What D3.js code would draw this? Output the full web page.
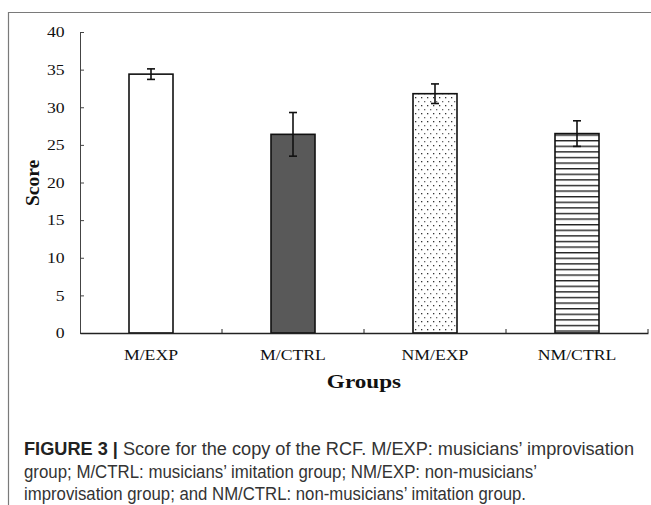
<!DOCTYPE html>
<html>
<head>
<meta charset="utf-8">
<script src="https://cdn.jsdelivr.net/npm/d3@7"></script>
<style>
  body { margin: 0; background: #fff; }
  svg { display: block; }
</style>
</head>
<body>
<script>
"use strict";
// chart values
const groups = ["M/EXP", "M/CTRL", "NM/EXP", "NM/CTRL"];
const means = [34.4, 26.4, 31.8, 26.5];
const errors = [0.7, 2.9, 1.3, 1.7];
const yTicks = [0, 5, 10, 15, 20, 25, 30, 35, 40];
const fills = ["#ffffff", "#595959", "url(#dots)", "url(#hlines)"];
const captionLines = [
    ["FIGURE 3 | ", "Score for the copy of the RCF. M/EXP: musicians\u2019 improvisation"],
    ["", "group; M/CTRL: musicians\u2019 imitation group; NM/EXP: non-musicians\u2019"],
    ["", "improvisation group; and NM/CTRL: non-musicians\u2019 imitation group."]
];

const size = { width: 651, height: 505 };
const serif = "'Liberation Serif', 'Times New Roman', serif";
const stretch = 1.18; // the original figure is a little wider than tall

const svg = d3.select("body").append("svg")
    .attr("width", size.width)
    .attr("height", size.height);

const defs = svg.append("defs");
const dots = defs.append("pattern")
    .attr("id", "dots")
    .attr("patternUnits", "userSpaceOnUse")
    .attr("width", 6).attr("height", 8);
dots.append("rect").attr("width", 6).attr("height", 8).attr("fill", "#fff");
dots.append("rect").attr("x", 1).attr("y", 1).attr("width", 1.3).attr("height", 1.3).attr("fill", "#333");
dots.append("rect").attr("x", 4).attr("y", 5).attr("width", 1.3).attr("height", 1.3).attr("fill", "#666");

const hl = defs.append("pattern")
    .attr("id", "hlines")
    .attr("patternUnits", "userSpaceOnUse")
    .attr("width", 10).attr("height", 5.6);
hl.append("rect").attr("width", 10).attr("height", 5.6).attr("fill", "#fff");
hl.append("rect").attr("y", 0).attr("width", 10).attr("height", 1.4).attr("fill", "#222");

// frame of the figure panel
svg.append("path")
    .attr("d", "M8.5,505 V12.5 H651")
    .attr("fill", "none")
    .attr("stroke", "#7a7a7a")
    .attr("stroke-width", 1.2);

const x = d3.scaleBand().domain(groups).range([80, 648]).padding(0);
const y = d3.scaleLinear().domain([0, 40]).range([333, 32]);
const barW = 44;

// y axis
const yAxis = svg.append("g")
    .attr("transform", "translate(80,0)")
    .call(d3.axisLeft(y).tickValues(yTicks).tickSizeInner(-4).tickSizeOuter(0).tickPadding(13));
yAxis.select(".domain").attr("stroke", "#444").attr("stroke-width", 1);
yAxis.selectAll(".tick line").attr("stroke", "#444");
yAxis.selectAll("text")
    .attr("transform", "scale(" + stretch + ",1)")
    .attr("font-family", serif)
    .attr("font-size", 15)
    .attr("fill", "#111");

// bars
svg.selectAll(".bar")
    .data(groups)
    .enter()
    .append("rect")
        .attr("class", "bar")
        .attr("x", d => x(d) + (x.bandwidth() - barW) / 2)
        .attr("width", barW)
        .attr("y", (d, i) => y(means[i]))
        .attr("height", (d, i) => y(0) - y(means[i]))
        .attr("fill", (d, i) => fills[i])
        .attr("stroke", "#111")
        .attr("stroke-width", 1.6);

// error bars
const eb = svg.selectAll(".err")
    .data(groups)
    .enter()
    .append("g")
        .attr("class", "err")
        .attr("stroke", "#111")
        .attr("stroke-width", 1.6);
const cx = d => x(d) + x.bandwidth() / 2;
eb.append("line")
    .attr("x1", cx).attr("x2", cx)
    .attr("y1", (d, i) => y(means[i] + errors[i]))
    .attr("y2", (d, i) => y(means[i] - errors[i]));
eb.append("line")
    .attr("x1", d => cx(d) - 4).attr("x2", d => cx(d) + 4)
    .attr("y1", (d, i) => y(means[i] + errors[i]))
    .attr("y2", (d, i) => y(means[i] + errors[i]));
eb.append("line")
    .attr("x1", d => cx(d) - 4).attr("x2", d => cx(d) + 4)
    .attr("y1", (d, i) => y(means[i] - errors[i]))
    .attr("y2", (d, i) => y(means[i] - errors[i]));

// x axis
const xAxis = svg.append("g")
    .attr("transform", "translate(0," + y(0) + ")")
    .call(d3.axisBottom(x).tickSize(0).tickPadding(16));
xAxis.select(".domain").attr("stroke", "#222").attr("stroke-width", 1.3);
xAxis.selectAll("text")
    .attr("transform", "scale(" + stretch + ",1)")
    .attr("font-family", serif)
    .attr("font-size", 15)
    .attr("fill", "#111");
const bounds = groups.map(g => x(g) + x.bandwidth());
xAxis.selectAll(".sep")
    .data(bounds)
    .enter()
    .append("line")
        .attr("x1", d => d).attr("x2", d => d)
        .attr("y1", 0).attr("y2", -4)
        .attr("stroke", "#222");

// axis titles
svg.append("text")
    .attr("transform", "translate(39,183) rotate(-90)")
    .attr("text-anchor", "middle")
    .attr("font-family", serif)
    .attr("font-weight", "bold")
    .attr("font-size", 19.5)
    .attr("fill", "#111")
    .text("Score");

svg.append("text")
    .attr("transform", "translate(364,388) scale(1.22,1)")
    .attr("text-anchor", "middle")
    .attr("font-family", serif)
    .attr("font-weight", "bold")
    .attr("font-size", 19)
    .attr("fill", "#111")
    .text("Groups");

// caption
const lineWidths = [610, 513, 502];
const cap = svg.selectAll(".cap")
    .data(captionLines)
    .enter()
    .append("text")
        .attr("class", "cap")
        .attr("x", 24)
        .attr("y", (d, i) => 455 + i * 22.5)
        .attr("font-family", "'Liberation Sans Narrow', 'Liberation Sans', Arial, sans-serif")
        .attr("font-size", 17.5)
        .attr("fill", "#333")
        .attr("textLength", (d, i) => lineWidths[i])
        .attr("lengthAdjust", "spacingAndGlyphs");
cap.append("tspan")
    .attr("font-weight", "bold")
    .attr("fill", "#222")
    .text(d => d[0]);
cap.append("tspan")
    .text(d => d[1]);
</script>
</body>
</html>
